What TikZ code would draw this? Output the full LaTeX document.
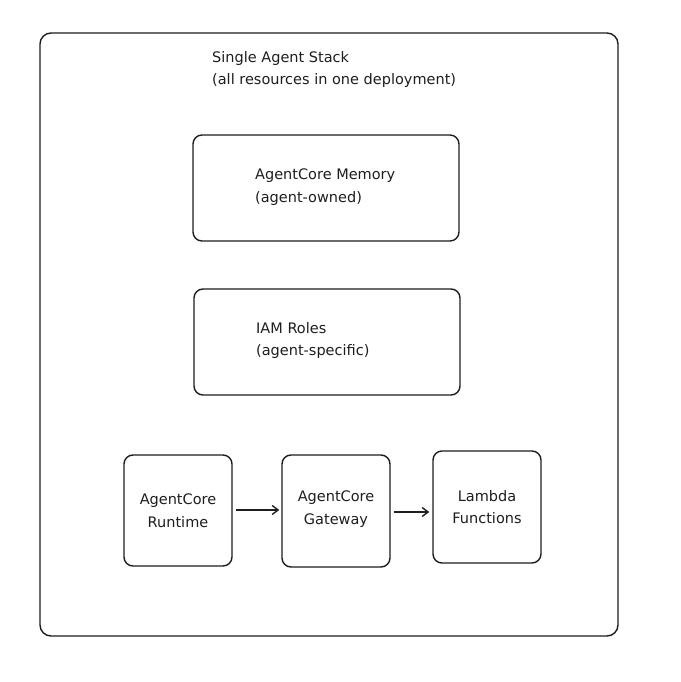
\documentclass[tikz,border=0pt]{standalone}
\usepackage{fontspec}
\setmainfont{DejaVu Sans}
\usetikzlibrary{arrows.meta}
\definecolor{ink}{HTML}{1E1E1E}
\tikzset{
  box/.style={draw=ink, line width=1.4pt, rounded corners=9pt},
  lbl/.style={text=ink, font=\fontsize{14.5}{22.5}\selectfont, inner sep=0pt},
  conn/.style={draw=ink, line width=1.4pt, -{Straight Barb[length=6pt,width=9pt,line width=1.4pt]}}
}
\begin{document}
\begin{tikzpicture}[x=1pt,y=-1pt]
\useasboundingbox (0,0) rectangle (680,682);
\fill[white] (0,0) rectangle (680,682);
% outer stack
\draw[box, rounded corners=11pt] (40,33) rectangle (618,636);
\node[lbl, anchor=north west, align=left] (title) at (212,51) {Single Agent Stack\\(all resources in one deployment)};
% memory
\node[box, minimum width=266pt, minimum height=106pt, inner sep=0pt] (mem) at (326,188) {};
\node[lbl, anchor=north west, align=left] (memt) at (255,169) {AgentCore Memory\\(agent-owned)};
% IAM
\node[box, minimum width=266pt, minimum height=106pt, inner sep=0pt] (iam) at (327,342) {};
\node[lbl, anchor=north west, align=left] (iamt) at (256,322) {IAM Roles\\(agent-specific)};
% bottom row
\node[box, minimum width=108pt, minimum height=111pt, inner sep=0pt] (rt) at (178,510.5) {};
\node[lbl, align=center] (rtt) at (rt.center) {AgentCore\\Runtime};
\node[box, minimum width=108pt, minimum height=112pt, inner sep=0pt] (gw) at (336,511) {};
\node[lbl, align=center] (gwt) at ([yshift=2pt]gw.center) {AgentCore\\Gateway};
\node[box, minimum width=108pt, minimum height=112pt, inner sep=0pt] (lf) at (487,507) {};
\node[lbl, align=center] (lft) at (lf.center) {Lambda\\Functions};
% connectors
\draw[conn] ([xshift=3pt]rt.east |- 0,510) -- ([xshift=-2pt]gw.west |- 0,510);
\draw[conn] ([xshift=3pt]gw.east |- 0,512) -- ([xshift=-3pt]lf.west |- 0,512);
\end{tikzpicture}
\end{document}
